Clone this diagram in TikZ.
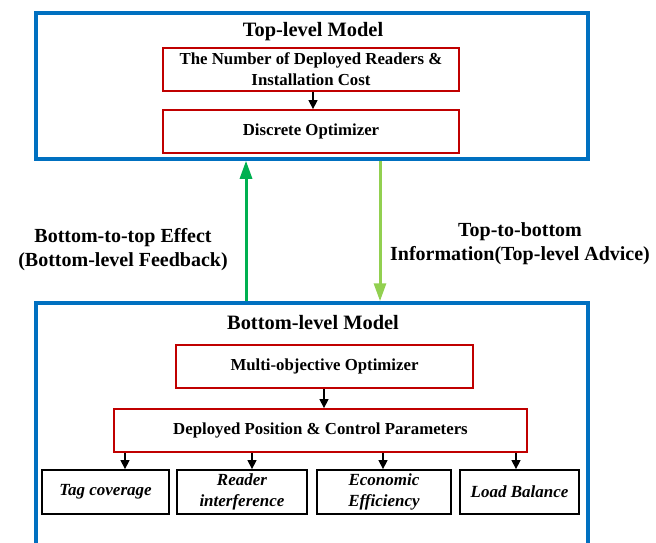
\documentclass[tikz,border=0pt]{standalone}
\usepackage{fontspec}
\setmainfont{Liberation Serif}
\usetikzlibrary{arrows.meta}
\definecolor{bluebox}{RGB}{0,112,192}
\definecolor{redbox}{RGB}{192,0,0}
\definecolor{upgreen}{RGB}{0,176,80}
\definecolor{downgreen}{RGB}{146,208,80}
\tikzset{
  model/.style={draw=bluebox, line width=3.5pt, rectangle, inner sep=0pt},
  redb/.style={draw=redbox, line width=1.8pt, rectangle, inner sep=0pt, align=center, font=\fontsize{16.8}{21}\selectfont\bfseries},
  blkb/.style={draw=black, line width=1.8pt, rectangle, inner sep=0pt, align=center, font=\fontsize{17}{21}\selectfont\bfseries\itshape},
  title/.style={font=\fontsize{20.4}{24}\selectfont\bfseries},
  lbl/.style={font=\fontsize{20}{24}\selectfont\bfseries},
  sarrow/.style={-{Triangle[length=9pt,width=9pt]}, line width=1.3pt, black},
  garrow/.style={-{Triangle[length=18pt,width=12pt]}, line width=3pt}
}
\begin{document}
\begin{tikzpicture}[x=1pt,y=-1pt]
\useasboundingbox (0,0) rectangle (656,543);
\clip (0,0) rectangle (656,543);
% top model
\node[model, minimum width=552pt, minimum height=146pt] (top) at (312,86) {};
\node[title] (toptitle) at (313,32) {Top-level Model};
\node[redb, minimum width=296pt, minimum height=43pt] (num) at (311,69.5) {The Number of Deployed Readers \&\\Installation Cost};
\node[redb, minimum width=296pt, minimum height=43pt] (disc) at (311,131.5) {Discrete Optimizer};
\draw[sarrow] (num.south -| 313,0) -- (disc.north -| 313,0);
% bottom model
\node[model, minimum width=552pt, minimum height=262pt] (bot) at (312,434) {};
\node[title] (bottitle) at (313,323) {Bottom-level Model};
\node[redb, minimum width=297pt, minimum height=43pt] (multi) at (324.5,366.5) {Multi-objective Optimizer};
\node[redb, minimum width=413pt, minimum height=43pt] (dep) at (320.5,430.5) {Deployed Position \& Control Parameters};
\draw[sarrow] (multi.south -| 324,0) -- (dep.north -| 324,0);
\node[blkb, minimum width=127pt, minimum height=44pt] (tag) at (105.5,492) {Tag coverage};
\node[blkb, minimum width=130pt, minimum height=44pt] (rdr) at (242,492) {Reader\\interference};
\node[blkb, minimum width=134pt, minimum height=44pt] (eco) at (384,492) {Economic\\Efficiency};
\node[blkb, minimum width=119pt, minimum height=44pt] (load) at (519.5,492) {Load Balance};
\draw[sarrow] (dep.south -| 125,0) -- (tag.north -| 125,0);
\draw[sarrow] (dep.south -| 252,0) -- (rdr.north -| 252,0);
\draw[sarrow] (dep.south -| 383,0) -- (eco.north -| 383,0);
\draw[sarrow] (dep.south -| 516,0) -- (load.north -| 516,0);
% inter-level arrows
\draw[garrow, upgreen] (bot.north -| 246,0) -- (top.south -| 246,0);
\draw[garrow, downgreen] (top.south -| 380,0) -- (bot.north -| 380,0);
\node[lbl, align=center] (lft) at (123,250) {Bottom-to-top Effect\\(Bottom-level Feedback)};
\node[lbl, align=center] (rgt) at (520,244) {Top-to-bottom\\Information(Top-level Advice)};
\end{tikzpicture}
\end{document}
